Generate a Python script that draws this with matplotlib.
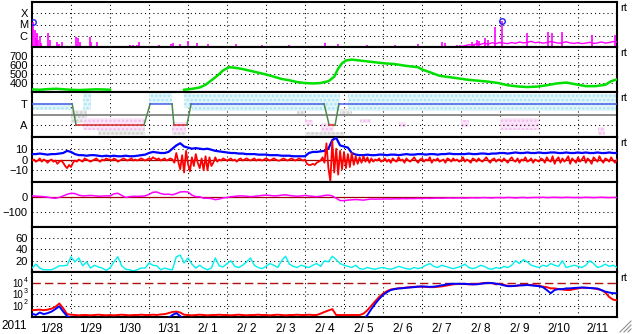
import matplotlib
matplotlib.use('Agg')
import matplotlib.pyplot as plt
from matplotlib.lines import Line2D
import matplotlib.transforms as mtransforms
import numpy as np

plt.rcParams['font.family'] = ['Liberation Sans', 'DejaVu Sans']
plt.rcParams['font.size'] = 8
plt.rcParams['hatch.linewidth'] = 1.2

# time axis: days since 2011-01-28 00:00 UT
day_labels = ['1/28', '1/29', '1/30', '1/31', '2/ 1', '2/ 2', '2/ 3', '2/ 4',
              '2/ 5', '2/ 6', '2/ 7', '2/ 8', '2/ 9', '2/10', '2/11']

# GOES X-ray flux: spikes (peak time, peak flux) above the 1e-7 floor
xr_t = [0.03, 0.08, 0.10, 0.13, 0.15, 0.21, 0.23, 0.41, 0.46, 0.64, 0.69, 0.77,
        1.13, 1.18, 1.23, 1.49, 1.51, 1.67, 2.13, 2.51, 2.59, 2.69, 2.74, 3.08,
        3.26, 3.56, 3.62, 3.79, 4.00, 4.23, 4.51, 5.22, 5.90, 6.60, 7.50, 7.85,
        8.60, 9.30, 9.90, 10.51, 10.59, 10.90, 10.97, 11.28, 11.33, 11.40, 11.45,
        11.62, 11.68, 11.87, 12.05, 12.69, 13.23, 13.33, 13.59, 14.36, 14.95]
xr_f = [1.7e-5, 3e-6, 6.3e-7, 1.75e-6, 4.2e-7, 9e-7, 2.3e-7, 1.75e-6, 4.2e-7,
        2.8e-7, 1.8e-7, 2.8e-7, 7.7e-7, 6.3e-7, 2.8e-7, 7.7e-7, 2.8e-7, 2.8e-7,
        1.2e-7, 1.5e-7, 1.5e-7, 1.5e-7, 2.8e-7, 1.2e-7, 1.5e-7, 1.8e-7, 2.3e-7,
        1.8e-7, 3.4e-7, 2.3e-7, 1.8e-7, 1.8e-7, 1.5e-7, 1.5e-7, 2.3e-7, 1.8e-7,
        1.5e-7, 1.5e-7, 1.8e-7, 2.8e-7, 2.3e-7, 1.5e-7, 1.5e-7, 2.8e-7, 1.8e-7,
        4.2e-7, 3.4e-7, 6e-7, 4.2e-7, 6e-6, 2e-5, 1.75e-6, 2.1e-6, 1.75e-6,
        2.1e-6, 1.2e-6, 1.2e-6]
# visible background level in the last days
xr_bg_t = np.arange(11.0, 15.01, 0.1)
xr_bg_f = [1.1e-7, 1.3e-7, 1.6e-7, 1.4e-7, 2.0e-7, 1.7e-7, 2.2e-7, 1.8e-7, 2.4e-7, 2.0e-7,
           2.6e-7, 2.2e-7, 2.0e-7, 2.5e-7, 2.1e-7, 2.8e-7, 2.3e-7, 2.6e-7, 3.2e-7, 2.4e-7,
           2.7e-7, 2.2e-7, 2.5e-7, 3.0e-7, 2.6e-7, 2.2e-7, 2.4e-7, 2.9e-7, 2.3e-7, 2.1e-7,
           2.4e-7, 2.0e-7, 2.2e-7, 2.6e-7, 2.1e-7, 2.3e-7, 2.8e-7, 2.2e-7, 2.5e-7, 3.0e-7, 2.7e-7]
flare_t = [0.03, 12.05]
flare_f = [1.7e-5, 2.0e-5]

# solar wind speed (km/s); nan = data gap
sw_t = [0.03, 0.2, 0.41, 0.62, 0.82, 1.03, 1.23, 1.44, 1.64, 1.85, 2.0, 2.05,
        3.9, 4.1, 4.3, 4.45, 4.6, 4.75, 4.9, 5.05, 5.2, 5.4, 5.6, 5.8, 6.0, 6.2,
        6.4, 6.6, 6.8, 7.0, 7.2, 7.4, 7.6, 7.75, 7.85, 7.95, 8.05, 8.2, 8.4, 8.6,
        8.8, 9.0, 9.3, 9.6, 9.9, 10.0, 10.2, 10.45, 10.7, 10.95, 11.2, 11.45,
        11.7, 11.95, 12.2, 12.45, 12.7, 12.95, 13.2, 13.45, 13.7, 13.95, 14.2,
        14.45, 14.7, 14.85, 15.0]
sw_v = [328, 325, 332, 336, 330, 324, 322, 326, 330, 328, 325, np.nan,
        325, 335, 350, 380, 430, 480, 540, 575, 570, 555, 535, 515, 495, 470,
        445, 430, 410, 400, 395, 400, 420, 470, 560, 620, 650, 660, 650, 640,
        630, 620, 610, 590, 575, 550, 520, 480, 465, 450, 435, 425,
        415, 400, 375, 362, 355, 360, 375, 395, 405, 385, 365,
        365, 380, 420, 440]

# IMF sector: +1 toward, -1 away
sec_t = [0.0, 1.03, 1.13, 2.87, 3.03, 3.59, 3.64, 3.97, 4.08, 7.49, 7.62, 7.77, 7.87, 15.0]
sec_s = [1, 1, -1, -1, 1, 1, -1, -1, 1, 1, -1, -1, 1, 1]
# scatter of the per-minute IMF angle: (start, end, low, high)
cyan_t0 = [0.0, 1.3, 3.0, 3.9, 4.1, 8.1]
cyan_t1 = [1.0, 1.5, 3.6, 4.1, 7.9, 15.0]
cyan_lo = [0.4, 0.4, 1.0, 0.6, 0.3, 0.3]
cyan_hi = [1.1, 2.0, 2.0, 2.0, 1.9, 1.9]
pink_t0 = [1.3, 3.6, 7.0, 7.4, 8.4, 9.4, 11.0, 12.0, 14.5]
pink_t1 = [2.9, 3.95, 7.2, 7.75, 8.7, 9.6, 11.2, 13.0, 14.7]
pink_lo = [-1.4, -1.7, -1.0, -1.6, -0.8, -1.2, -1.2, -1.4, -1.9]
pink_hi = [-0.3, -0.7, -0.5, -0.8, -0.4, -0.7, -0.5, -0.3, -1.2]
gray_t0 = [1.0, 1.7, 3.0, 3.6, 6.8, 7.0, 7.9]
gray_t1 = [1.4, 2.9, 3.6, 3.95, 7.0, 8.0, 8.2]
gray_lo = [-0.8, -1.9, 1.5, -1.9, 0.0, -2.0, 0.0]
gray_hi = [0.4, -1.2, 2.0, -1.6, 0.7, -1.6, 0.5]

# IMF Bt and Bz (nT)
bt = [5, 5, 5.5, 5, 4.5, 5, 5, 5.5, 6, 8,
      7, 5, 4, 4, 3.5, 4, 4, 3.5, 3, 3.5,
      3, 3.5, 3, 3, 3.5, 3, 3, 3.5, 4, 4.5,
      6, 7, 6.5, 6, 6, 7, 10, 13, 15, 12,
      11, 10, 10.5, 10, 9.5, 10, 9, 8, 7.5, 7,
      6.5, 6, 6, 5.5, 5.5, 5, 5, 5, 4.5, 4.5,
      4.5, 4, 4, 4, 3.5, 3.5, 3.5, 3, 3, 3,
      3, 6, 7, 7, 7.5, 8, 10, 18, 20, 13,
      12, 11, 6, 4.5, 4, 4, 4.5, 4, 4, 4.5,
      4.5, 4, 4.5, 4.5, 4, 4.5, 5, 4.5, 4.5, 5,
      5, 4.5, 5, 5, 4.5, 5, 5, 5.5, 5, 5,
      5, 5, 5.5, 5, 5, 5.5, 5.5, 5, 5.5, 5.5,
      6, 6, 5.5, 6, 6.5, 6, 6, 6.5, 6, 6,
      6.5, 6, 6, 6.5, 6.5, 6, 6, 6.5, 6, 6,
      6.5, 6, 6.5, 6, 6, 6.5, 6, 6, 6.5, 6, 6]
bz = [-1, 0, -2, -1, 1, -2, 0, -1, -3, -1, 0, -2, -1, -4, -2, -1, -3, -6, -8, -5,
      -7, -3, -1, -2, 0, -1, -2, 1, 0, -1, -2, -1, 0, 1, -1, -2, 0, -1, 1, 0,
      0, -1, 1, 0, -2, -1, 0, 1, 0, -1, 0, 1, -1, 0, -1, 0, 1, 0, -1, 0,
      1, 0, 2, 1, 0, 1, -1, 0, 1, -1, 0, 1, 0, -3, 6, -2, -9, 4, -12, 8,
      -4, -11, 2, -6, 5, -3, -8, 1, -10, 3, -10, 2, -6, -3, 2, -2, 0, -1, 1, 0,
      -1, 0, 1, -1, 0, -2, 0, 1, -1, 0, 1, 0, -1, 0, 1, -1, 0, 0, -1, 0,
      1, 0, -1, 0, 1, 0, -1, -1, 0, 1, 0, -1, 0, 1, 0, -1, 0, 1, 0, -1,
      0, -4, -5, -5, -4, -5, -3, -2, -1, 2, -3, 15, -8, -20, 17, -12, 10, -14, 8, -9,
      7, -8, 5, -7, 6, -5, 3, -4, 2, -3, 3, -2, 2, -3, 1, -2, 0, -1, 1, -2,
      -1, 1, -2, 0, -3, 1, -1, -2, 2, -1, 0, -3, 1, -1, -2, 0, 2, -1, -3, 0,
      1, -2, 0, -1, 2, -3, 0, -1, 1, -2, -1, 0, -3, 1, 0, -2, 1, -1, 0, -2,
      -1, 2, -2, 0, -1, -3, 1, 0, -2, 1, -1, -2, 0, 2, -1, -3, 0, 1, -2, 0,
      0, -2, 1, -1, -3, 0, 2, -1, -2, 1, -3, 0, -1, 2, -2, -1, 1, -3, 0, -1,
      -2, 1, 0, -3, 2, -1, -2, 3, -4, 0, 2, -3, 1, -2, 0, 3, -4, 1, -1, -3,
      2, -2, 0, 3, -3, 1, -1, -4, 2, 0, -2, 3, -1, -3, 1, 0, -2, 2, -1, -3, 0]

# Dst index (nT)
dst = [5, 3, 2, 0, -3, -8, -10, -5, 5, 15,
       22, 20, 10, 5, 6, 8, 6, 3, 4, 5,
       5, 18, 22, 8, -5, 0, 3, 2, 3, 5,
       15, 28, 30, 20, 15, 16, 12, 20, 30, 32,
       30, 10, 0, 0, -10, -10, -12, -19, -15, -8,
       -5, 0, 2, 5, 5, 3, 0, 2, 5, 8,
       10, 8, 5, 6, 10, 12, 8, 5, 3, 5,
       8, 5, 2, 0, 3, 8, 10, 5, -10, -25,
       -25, -22, -20, -18, -20, -22, -18, -15, -16, -15,
       -15, -14, -15, -13, -14, -12, -13, -12, -12, -11,
       -12, -10, -11, -10, -9, -10, -9, -8, -9, -8,
       -8, -9, -8, -7, -8, -7, -6, -7, -8, -6,
       -6, -7, -5, -6, -8, -6, -5, -7, -6, -5,
       -5, -4, -6, -5, -4, -5, -6, -4, -5, -6,
       -5, -6, -4, -5, -6, -5, -4, -5, -6, -5, -5]

# geomagnetic activity (panel 6)
act = [7, 14, 7, 4, 4, 4, 7, 11, 11, 12,
       27, 18, 25, 11, 18, 7, 12, 9, 7, 3,
       7, 18, 27, 11, 5, 4, 2, 4, 7, 7,
       16, 12, 11, 4, 7, 5, 4, 27, 30, 16,
       25, 14, 7, 12, 7, 4, 7, 25, 11, 9,
       15, 20, 10, 8, 12, 18, 25, 12, 8, 6,
       10, 15, 12, 8, 20, 28, 14, 10, 8, 12,
       10, 8, 12, 15, 10, 20, 18, 28, 22, 15,
       12, 10, 8, 12, 6, 5, 8, 6, 5, 7,
       8, 6, 5, 7, 10, 8, 6, 5, 8, 6,
       8, 12, 15, 10, 8, 12, 10, 8, 6, 8,
       10, 14, 8, 6, 8, 12, 10, 6, 5, 8,
       6, 10, 8, 12, 20, 15, 22, 18, 12, 10,
       8, 12, 10, 15, 12, 10, 20, 8, 10, 12,
       10, 8, 12, 20, 15, 8, 10, 14, 10, 12, 8]

# >2 MeV electron flux (two satellites)
flux_r = [40, 42, 45, 40, 45, 55, 80, 160, 60, 18,
          16, 15, 14, 15, 15, 14, 15, 16, 15, 14,
          15, 14, 15, 16, 15, 14, 15, 15, 16, 15,
          15, 16, 15, 17, 18, 22, 28, 30, 25, 16,
          15, 14, 15, 16, 15, 14, 15, 15, 16, 15,
          15, 14, 15, 16, 15, 14, 15, 15, 16, 15,
          15, 14, 15, 16, 15, 14, 15, 15, 16, 15,
          15, 16, 15, 15, 20, 28, 38, 50, 15, 15,
          15, 15, 15, 15, 15, 20, 40, 100, 250, 600,
          1200, 2000, 2800, 3200, 3500, 3800, 4200, 4500, 4800, 5000,
          5000, 4800, 4500, 4500, 4800, 5200, 6000, 7000, 8000, 8500,
          8500, 8500, 8000, 8000, 8500, 9500, 10500, 11000, 10000, 8000,
          9000, 7000, 6000, 5800, 5800, 6500, 7000, 7000, 7000, 6500,
          6000, 5000, 4500, 3500, 3500, 3000, 2800, 2500, 2500, 3000,
          3500, 4000, 4000, 3800, 3500, 3000, 2500, 1500, 600, 350, 300]
flux_b = [20, 15, 25, 18, 22, 30, 50, 90, 30, 12,
          8, 6, 5, 5, 5, 5, 5, 5, 5, 5,
          5, 5, 5, 5, 5, 5, 5, 5, 5, 5,
          5, 5, 5, 5, 5, 8, 15, 22, 12, 6,
          5, 5, 5, 5, 5, 5, 5, 5, 5, 5,
          5, 5, 5, 5, 5, 5, 5, 5, 5, 5,
          5, 5, 5, 5, 5, 5, 5, 5, 5, 5,
          5, 5, 5, 5, 5, 5, 5, 5, 5, 5,
          5, 5, 5, 5, 5, 6, 15, 50, 150, 400,
          900, 1600, 2500, 3000, 3500, 3600, 4000, 4200, 4500, 5000,
          5200, 5000, 4800, 5000, 5500, 6500, 7500, 8500, 9000, 9000,
          9000, 8800, 8500, 8000, 8000, 9000, 10000, 10500, 10500, 9000,
          8000, 6500, 5500, 5500, 6000, 6500, 6500, 7000, 6500, 6000,
          5500, 4500, 2500, 1300, 2500, 3000, 3000, 3500, 3500, 3800,
          4000, 4200, 4000, 3800, 3600, 3400, 2500, 1800, 1500, 1300, 1300]
flux_exp = [2, 3, 4]

grid_t = np.arange(0, 15.01, 0.1)
bz_t = np.arange(0, 15.01, 0.05)

fig = plt.figure(figsize=(6.33, 3.34), dpi=100)
L, R = 32 / 633, 617 / 633
T, B = 1 - 2 / 334, 1 - 317 / 334
h = (T - B) / 7
axes = [fig.add_axes([L, T - (i + 1) * h, R - L, h]) for i in range(7)]

dot = dict(color='black', lw=0.75, ls=(0, (1, 3)), zorder=1)
for ax in axes:
    ax.set_xlim(0, 15)
    for d in range(1, 15):
        ax.axvline(d, **dot)
    for s in ax.spines.values():
        s.set_linewidth(1.5)
    ax.tick_params(axis='both', length=0, pad=3, labelsize=8)
    ax.set_xticks([])
    ax.minorticks_off()


def cloud(ax, t0s, t1s, los, his, face, edge):
    for t0, t1, lo, hi in zip(t0s, t1s, los, his):
        ax.fill_between([t0, t1], lo, hi, facecolor=face, edgecolor=edge,
                        hatch='....', lw=0, zorder=1)


# 1: X-ray
ax = axes[0]
ax.set_yscale('log')
ax.set_ylim(1e-7, 1e-3)
for v in [1e-4, 1e-5, 1e-6]:
    ax.axhline(v, **dot)
ax.vlines(xr_t, 1e-7, xr_f, color='#ff00ff', lw=1.2, zorder=3)
ax.plot(xr_bg_t, xr_bg_f, color='#ff00ff', lw=1.0, zorder=3)
ax.plot(flare_t, flare_f, 'o', ms=4, mfc='none', mec='#2020ff', mew=1.0, zorder=4)
ax.set_yticks([1e-4, 1e-5, 1e-6], ['X', 'M', 'C'])
ax.minorticks_off()

# 2: solar wind speed
ax = axes[1]
ax.set_ylim(300, 800)
for v in [400, 500, 600, 700]:
    ax.axhline(v, **dot)
ax.plot(sw_t, sw_v, color='#00e000', lw=1.8, zorder=3)
ax.set_yticks([400, 500, 600, 700])

# 3: IMF sector
ax = axes[2]
ax.set_ylim(-2.1, 2.1)
cloud(ax, gray_t0, gray_t1, gray_lo, gray_hi, '#ececec', '#cfcfcf')
cloud(ax, cyan_t0, cyan_t1, cyan_lo, cyan_hi, '#e2f5fb', '#a8e4f4')
cloud(ax, pink_t0, pink_t1, pink_lo, pink_hi, '#fbe6fa', '#f2bcee')
ax.axhline(-1, **dot)
ax.axhline(0, color='#7a7a7a', lw=1.2, zorder=2)
for i in range(len(sec_t) - 1):
    a, b = sec_s[i], sec_s[i + 1]
    c = '#4a5ee8' if a == b == 1 else ('#d83030' if a == b == -1 else '#4a8a4a')
    ax.plot(sec_t[i:i + 2], sec_s[i:i + 2], color=c, lw=1.1, zorder=3)
ax.set_yticks([1, -1], ['T', 'A'])

# 4: Bt / Bz
ax = axes[3]
ax.set_ylim(-20.8, 20.8)
for v in [10, -10]:
    ax.axhline(v, **dot)
ax.axhline(0, color='#a00000', lw=0.9, zorder=2)
ax.plot(grid_t, bt, color='#0000ff', lw=1.6, zorder=3)
ax.plot(bz_t, bz, color='#ff0000', lw=1.3, zorder=4)
ax.set_yticks([10, 0, -10])

# 5: Dst
ax = axes[4]
ax.set_ylim(-194, 94)
ax.axhline(-100, **dot)
ax.axhline(0, color='#a00000', lw=0.9, zorder=2)
ax.plot(grid_t, dst, color='#ff00ff', lw=1.1, zorder=3)
ax.set_yticks([0, -100])

# 6: activity
ax = axes[5]
ax.set_ylim(0, 80)
for v in [20, 40, 60]:
    ax.axhline(v, **dot)
ax.plot(grid_t, act, color='#00f0f0', lw=1.0, zorder=3)
ax.set_yticks([20, 40, 60])

# 7: electron flux
ax = axes[6]
ax.set_yscale('log')
ax.set_ylim(10, 1e5)
for v in [1e2, 1e3]:
    ax.axhline(v, **dot)
ax.axhline(1e4, color='#b01010', lw=1.0, ls=(0, (6, 3)), zorder=2)
ax.plot(grid_t, flux_r, color='#ff0000', lw=1.4, zorder=3)
ax.plot(grid_t, flux_b, color='#0000ff', lw=1.4, zorder=4)
ax.set_yticks([])
ax.minorticks_off()
# decade labels drawn as base + small raised exponent
lab = mtransforms.blended_transform_factory(ax.transAxes, ax.transData)
for e in flux_exp:
    ax.text(0, 10.0 ** e, '10', ha='right', va='center', fontsize=7,
            transform=lab + mtransforms.ScaledTranslation(-9 / 100, -1 / 100, fig.dpi_scale_trans))
    ax.text(0, 10.0 ** e, str(e), ha='left', va='center', fontsize=5,
            transform=lab + mtransforms.ScaledTranslation(-8.5 / 100, 3 / 100, fig.dpi_scale_trans))
ax.set_xticks(np.arange(15) + 0.5, day_labels)
ax.tick_params(axis='x', length=0, pad=4, labelsize=8.5)
fig.text(14 / 633, 1 - 326 / 334, '2011', ha='center', va='center', fontsize=8.5)

for i in [0, 1, 2, 3, 6]:
    axes[i].text(1.006, 0.86, 'rt', transform=axes[i].transAxes, fontsize=8, va='center', ha='left')

# window resize grip in the lower right corner
for k in range(3):
    fig.add_artist(Line2D([(620 + 4 * k) / 633, 631 / 633],
                          [1 - 332 / 334, 1 - (321 + 4 * k) / 334],
                          color='#909090', lw=0.8))

fig.savefig('out.png', dpi=100)
